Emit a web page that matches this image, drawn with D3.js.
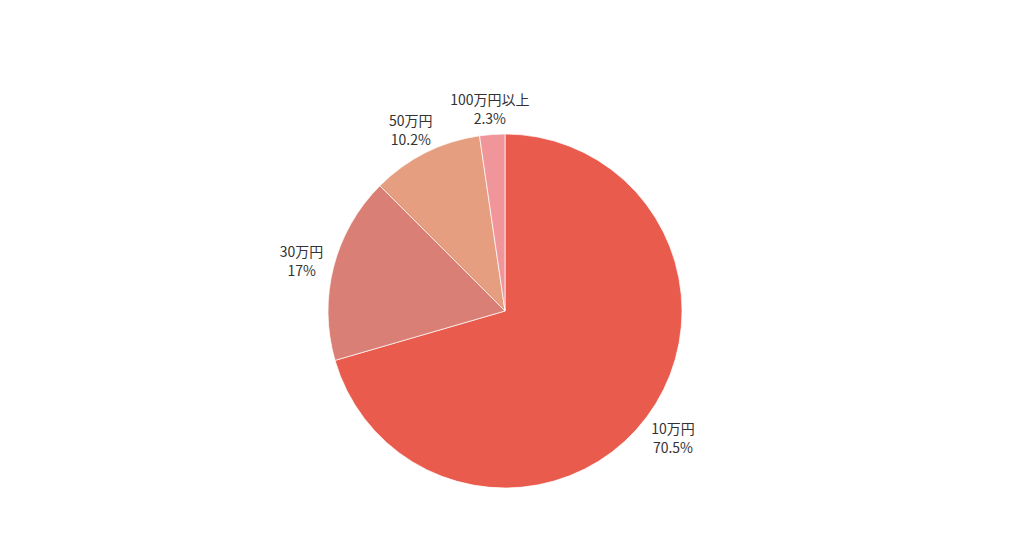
<!DOCTYPE html>
<html><head><meta charset="utf-8">
<script src="https://cdn.jsdelivr.net/npm/d3@7"></script>
<style>body{margin:0;background:#fff;}svg{display:block;}</style>
</head><body>
<svg id="chart" width="1024" height="538"></svg>
<script>
const categories = ["10万円", "30万円", "50万円", "100万円以上"];
const values = [70.5, 17, 10.2, 2.3];
const valueLabels = ["70.5%", "17%", "10.2%", "2.3%"];
const colors = ["#e95b4d", "#da7f75", "#e59e7f", "#f0959a"];

const svg = d3.select("#chart");
const cx = 505, cy = 311, r = 177, labelR = 210;
const data = categories.map((c, i) => ({cat: c, v: values[i], lab: valueLabels[i], col: colors[i]}));
const pie = d3.pie().value(d => d.v).sort(null);
const arcs = pie(data);
const arc = d3.arc().innerRadius(0).outerRadius(r);
const labelArc = d3.arc().innerRadius(labelR).outerRadius(labelR);
const g = svg.append("g").attr("transform", `translate(${cx},${cy})`);
g.selectAll("path").data(arcs).join("path")
  .attr("d", arc).attr("fill", d => d.data.col)
  .attr("stroke", "#fff").attr("stroke-width", 0.7);
const lbl = g.selectAll("text").data(arcs).join("text")
  .attr("transform", d => {
    const [x, y] = labelArc.centroid(d);
    // push labels near the top a little toward the pie so they clear it like the reference
    const a = (d.startAngle + d.endAngle) / 2;
    const shift = Math.max(0, Math.cos(a)) * 6;
    return `translate(${x},${y + shift})`;
  })
  .attr("text-anchor", "middle")
  .attr("font-family", "'Noto Sans CJK JP', 'Noto Sans', sans-serif")
  .attr("font-size", 14).attr("fill", "#333");
lbl.append("tspan").attr("x", 0).attr("y", -3).text(d => d.data.cat);
lbl.append("tspan").attr("x", 0).attr("y", 16).text(d => d.data.lab);
</script>
</body></html>
